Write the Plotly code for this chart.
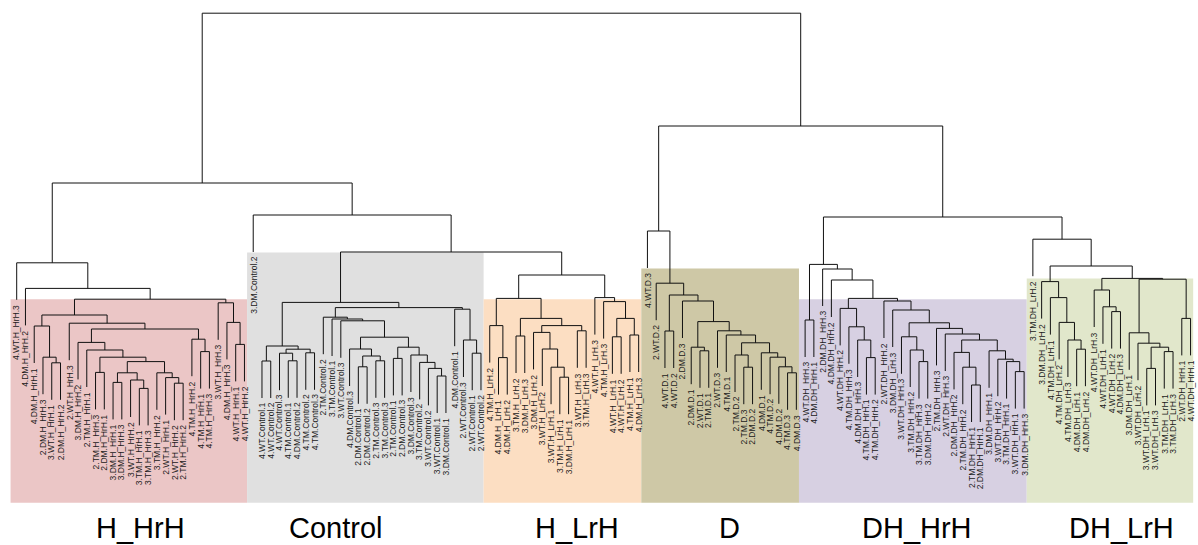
import plotly.graph_objects as go

# ---------------- data: merge heights per cluster, nested as (height, left, right) -------------
tree_H_HrH = (44.3, "4.WT.H_HrH.3",
    (37.9, "4.DM.H_HrH.2",
        (35.2,
            (31.25,
                (28.5, "4.DM.H_HrH.1",
                    (20.7, "2.DM.H_HrH.3", (19.3, "3.WT.H_HrH.1", "2.DM.H_HrH.2"))),
                (29.2, "2.WT.H_HrH.3",
                    (27.75,
                        (24.4, "3.DM.H_HrH.2",
                            (22.5, "2.TM.H_HrH.1",
                                (20.7,
                                    (16.9, "2.TM.H_HrH.3", "2.DM.H_HrH.1"),
                                    (19.6,
                                        (16.8,
                                            (14.4, "3.DM.H_HrH.1", "3.DM.H_HrH.3"),
                                            (15.0, "3.WT.H_HrH.2", (12.9, "3.TM.H_HrH.1", "3.TM.H_HrH.3"))),
                                        (16.8, "3.TM.H_HrH.2",
                                            (15.6, "2.WT.H_HrH.1", (14.2, "2.WT.H_HrH.2", "2.TM.H_HrH.2"))))))),
                        (25.2, "4.TM.H_HrH.2", (22.1, "4.TM.H_HrH.1", "4.TM.H_HrH.3"))))),
            (34.3, "3.WT.H_HrH.3",
                (29.4, "4.DM.H_HrH.3", (23.9, "4.WT.H_HrH.1", "4.WT.H_HrH.2"))))))

tree_Control = (34.4,
    (23.5,
        (19.75, "4.WT.Control.1", "4.WT.Control.2"),
        (22.7,
            (21.7, "4.WT.Control.3", (19.8, "4.TM.Control.1", "4.DM.Control.2")),
            (21.8, "4.TM.Control.2", "4.TM.Control.3"))),
    (33.1,
        (30.7, "2.TM.Control.2",
            (30.25, "3.TM.Control.1",
                (29.8, "3.WT.Control.3",
                    (25.7,
                        (22.75, "4.DM.Control.3",
                            (21.0, (18.3, "2.DM.Control.1", "2.DM.Control.2"),
                                   (19.8, "2.TM.Control.3", "3.TM.Control.3"))),
                        (23.2,
                            (20.4, "2.TM.Control.1", "2.DM.Control.3"),
                            (21.25, "3.DM.Control.3",
                                (19.4, "3.TM.Control.2",
                                    (17.9, "3.WT.Control.2", (16.0, "3.WT.Control.1", "3.DM.Control.1"))))))))),
        (32.7, "4.DM.Control.1",
            (25.0, "2.WT.Control.3", (21.7, "2.WT.Control.1", "2.WT.Control.2")))))

tree_H_LrH = (41.25,
    (35.4,
        (28.6, "4.TM.H_LrH.2", (20.6, "4.DM.H_LrH.1", "4.DM.H_LrH.2")),
        (30.4,
            (26.0, "3.TM.H_LrH.2", "3.DM.H_LrH.3"),
            (28.6,
                (26.9, "3.DM.H_LrH.2",
                    (22.75, "3.WT.H_LrH.2",
                        (18.2, "3.WT.H_LrH.1", (15.7, "3.TM.H_LrH.1", "3.DM.H_LrH.1")))),
                (27.3, "3.WT.H_LrH.3", "3.TM.H_LrH.3")))),
    (35.6, "4.WT.H_LrH.3",
        (34.6, "4.TM.H_LrH.3",
            (30.4,
                (25.8, "4.WT.H_LrH.1", "4.WT.H_LrH.2"),
                (26.25, "4.TM.H_LrH.1", "4.DM.H_LrH.3")))))

tree_D = (52.25, "4.WT.D.3",
    (39.2, "2.WT.D.2",
        (36.25,
            (27.25, "4.WT.D.1", "4.WT.D.2"),
            (34.75, "2.DM.D.3",
                (29.6,
                    (23.2, "2.DM.D.1", (22.3, "2.WT.D.1", "2.TM.D.1")),
                    (27.3, "2.WT.D.3",
                        (26.25, "4.TM.D.1",
                            (24.3,
                                (21.25, "2.TM.D.2", (18.2, "2.TM.D.3", "2.DM.D.2")),
                                (21.8, "4.DM.D.1",
                                    (20.7, "4.TM.D.2",
                                        (18.3, "4.DM.D.2", (16.8, "4.TM.D.3", "4.DM.D.3"))))))))))))

tree_DH_HrH = (43.9,
    (30.0, "4.WT.DH_HrH.3", "4.DM.DH_HrH.1"),
    (42.75, "2.DM.DH_HrH.3",
        (40.0, "4.DM.DH_HrH.2",
            (35.4,
                (32.9, "4.WT.DH_HrH.2",
                    (28.3, "4.TM.DH_HrH.3",
                        (25.0, "4.DM.DH_HrH.3", (20.6, "4.TM.DH_HrH.1", "4.TM.DH_HrH.2")))),
                (34.75, "2.WT.DH_HrH.2",
                    (32.5, "3.DM.DH_LrH.3",
                        (29.3,
                            (25.8, "3.WT.DH_HrH.3",
                                (22.5, "3.TM.DH_HrH.2", (19.6, "3.TM.DH_HrH.3", "3.DM.DH_HrH.2"))),
                            (27.9, "2.TM.DH_HrH.3",
                                (26.5, "2.WT.DH_HrH.3",
                                    (25.0,
                                        (21.9, "2.DM.DH_HrH.2",
                                            (18.2, "2.TM.DH_HrH.2", (13.75, "2.TM.DH_HrH.1", "2.DM.DH_HrH.1"))),
                                        (22.3, "3.DM.DH_HrH.1",
                                            (20.2, "3.WT.DH_HrH.2",
                                                (19.6, "3.TM.DH_HrH.1",
                                                    (17.1, "3.WT.DH_HrH.1", "3.DM.DH_HrH.3"))))))))))))))

tree_DH_LrH = (50.2, "3.TM.DH_LrH.2",
    (43.5,
        (39.6, "3.DM.DH_LrH.2",
            (35.6, "4.TM.DH_LrH.1",
                (29.4, "4.TM.DH_LrH.2",
                    (25.0, "4.TM.DH_LrH.3", (22.7, "4.DM.DH_LrH.1", "4.DM.DH_LrH.2"))))),
        (40.4,
            (37.5, "4.WT.DH_LrH.3",
                (33.3, "4.WT.DH_LrH.1", (32.1, "4.WT.DH_LrH.2", "4.DM.DH_LrH.3"))),
            (40.2,
                (26.8, "3.DM.DH_LrH.1",
                    (24.2, "3.WT.DH_LrH.2",
                        (23.2, (17.9, "3.WT.DH_LrH.1", "3.WT.DH_LrH.3"),
                               (22.1, "3.TM.DH_LrH.1", "3.TM.DH_LrH.3")))),
                (30.4, "2.WT.DH_HrH.1", "4.WT.DH_HrH.1")))))

# upper merges joining the clusters
top_heights = {"root": 106.7, "left": 64.25, "ctrl_out": 56.25, "ctrl_lrh": 47.0,
               "right": 78.5, "dh": 55.75}

groups = ["H_HrH", "Control", "H_LrH", "D", "DH_HrH", "DH_LrH"]
group_sizes = [27, 27, 18, 18, 26, 19]
group_cut = [35.2, 46.9, 35.2, 42.9, 35.2, 40.4]
group_colors = ["#EBC6C6", "#E0E0E0", "#FCDEC2", "#CEC8A6", "#D7D0E2", "#E1E7CB"]
group_label_x = [15.1, 37.45, 65.0, 82.4, 103.8, 127.1]

HANG = 9.25
LABEL_GAP = 1.0
BOX_BOTTOM = -15.7

tree = (top_heights["root"],
        (top_heights["left"], tree_H_HrH,
            (top_heights["ctrl_out"], "3.DM.Control.2",
                (top_heights["ctrl_lrh"], tree_Control, tree_H_LrH))),
        (top_heights["right"], tree_D,
            (top_heights["dh"], tree_DH_HrH, tree_DH_LrH)))

# ---------------- layout of the dendrogram --------------------------------
seg_x, seg_y, leaves = [], [], []
counter = [0]


def place(node, parent_h):
    if isinstance(node, str):
        counter[0] += 1
        x = counter[0]
        h_end = parent_h - HANG
        leaves.append((x, h_end, node))
        return x, h_end
    h, a, b = node
    xa, ha = place(a, h)
    xb, hb = place(b, h)
    seg_x.extend([xa, xa, xb, xb, None])
    seg_y.extend([ha, h, h, hb, None])
    return (xa + xb) / 2.0, h


place(tree, None)

fig = go.Figure()
fig.add_trace(go.Scatter(x=seg_x, y=seg_y, mode="lines",
                         line=dict(color="#111111", width=1),
                         hoverinfo="skip", showlegend=False))

shapes = []
start = 1
for g, n, cut, col in zip(groups, group_sizes, group_cut, group_colors):
    end = start + n - 1
    shapes.append(dict(type="rect", xref="x", yref="y",
                       x0=start - 0.7, x1=end + 0.3, y0=BOX_BOTTOM, y1=cut,
                       fillcolor=col, line=dict(width=0), layer="below"))
    start = end + 1

annotations = []
for x, h_end, lab in leaves:
    annotations.append(dict(x=x, y=h_end - LABEL_GAP, text=lab, textangle=-90,
                            xanchor="center", yanchor="top", showarrow=False,
                            borderpad=0,
                            font=dict(family="Liberation Sans, Arial, sans-serif",
                                      size=8.5, color="#1a1a1a")))
for g, gx in zip(groups, group_label_x):
    annotations.append(dict(x=gx, y=-22.0, text=g, showarrow=False,
                            xanchor="center", yanchor="middle",
                            font=dict(family="Liberation Sans, Arial, sans-serif",
                                      size=29, color="#000000")))

fig.update_layout(
    width=1198, height=545,
    margin=dict(l=0, r=0, t=0, b=0),
    paper_bgcolor="white", plot_bgcolor="white",
    shapes=shapes, annotations=annotations,
    xaxis=dict(range=[-0.906, 135.85], visible=False, fixedrange=True),
    yaxis=dict(range=[-26.25, 110], visible=False, fixedrange=True),
)

fig.write_html("out.html")
